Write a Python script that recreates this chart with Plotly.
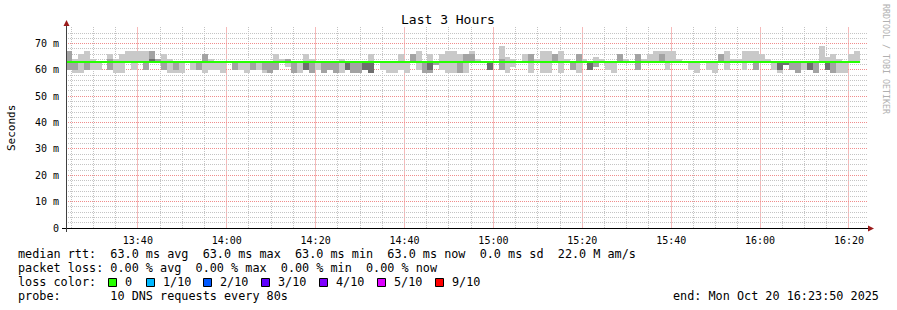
import math
import plotly.graph_objects as go
from datetime import datetime, timedelta

# ---------------- data ----------------
end_time = datetime(2025, 10, 20, 16, 23, 50)
span_hours = 3
step_s = 80                      # 10 DNS requests every 80 s

# smoke: upper / lower edges of the three grey bands per 80 s step (ms)
light_hi = [67,64,66,67,64,63,63,66,64,66, 67,67,67,67,67,64,66,64,63,63,
            63,63,63,66,64,63,63,63,63,63, 63,63,63,63,63,66,64,64,63,63,
            66,64,63,63,63,63,64,63,63,63, 63,66,63,63,63,63,66,63,66,67,
            63,66,63,66,67,67,66,66,67,64, 63,63,63,69,65,64,63,66,66,64,
            67,67,66,67,64,63,66,64,63,65, 64,63,63,66,64,63,66,64,66,67,
            67,67,67,64,63,63,63,63,63,63, 66,67,64,64,67,67,67,66,64,63,
            63,63,63,63,63,63,63,69,65,66, 64,63,66,67]
mid_hi = [67,63,63,63,63,63,63,64,63,63, 63,63,63,63,67,64,63,63,63,63,
          63,63,63,66,63,63,63,63,63,63, 63,63,63,63,63,63,63,64,63,63,
          63,63,63,63,63,63,63,63,63,63, 63,63,63,63,63,63,63,63,66,63,
          63,63,63,63,63,63,63,66,66,63, 63,63,63,64,63,63,63,63,66,63,
          63,63,66,63,63,63,66,63,63,63, 63,63,63,66,63,63,66,63,63,63,
          66,63,63,63,63,63,63,63,63,63, 66,63,63,63,63,63,63,63,63,63,
          63,63,63,63,63,63,63,63,63,63, 63,63,63,63]
dark_hi = [63,63,63,63,63,63,63,63,63,63, 63,63,63,63,64,63,63,63,63,63,
           63,63,63,63,63,63,63,63,63,63, 63,63,63,63,63,63,63,63,63,63,
           63,63,63,63,63,63,63,63,63,63, 63,63,63,63,63,63,63,63,63,63,
           63,63,63,63,63,63,63,63,63,63, 63,63,63,63,63,63,63,63,63,63,
           63,63,63,63,63,63,63,63,63,63, 63,63,63,63,63,63,63,63,63,63,
           63,63,63,63,63,63,63,63,63,63, 63,63,63,63,63,63,63,63,63,63,
           63,63,63,63,63,63,63,63,63,63, 63,63,63,63]
dark_lo = [63,63,63,63,63,63,63,63,63,63, 63,63,63,63,63,63,63,63,63,63,
           63,63,63,63,63,63,63,63,63,63, 63,63,63,63,63,63,63,63,63,63,
           60,63,63,63,63,63,63,60,63,63, 60,59,63,63,63,63,63,63,63,63,
           63,60,63,63,63,63,63,63,63,63, 63,60,63,63,63,63,63,63,63,63,
           63,63,63,63,63,63,63,63,60,63, 63,63,63,63,63,63,63,63,63,63,
           63,63,63,63,63,63,63,63,63,63, 63,63,63,63,63,63,63,63,63,63,
           60,62,63,63,63,60,63,63,60,63, 63,63,63,63]
mid_lo = [60,60,63,60,63,63,63,60,63,63, 63,63,63,60,63,63,60,63,60,63,
          63,63,60,63,63,63,63,63,60,63, 63,60,63,60,59,60,63,63,59,63,
          60,59,63,59,60,59,63,60,59,59, 60,59,63,63,63,63,63,63,63,63,
          59,59,62,63,63,63,59,63,63,63, 63,60,63,60,63,63,63,63,63,63,
          63,63,63,63,63,60,63,63,60,61, 63,63,63,63,63,63,60,63,63,63,
          63,63,63,63,63,63,63,63,63,63, 63,63,63,63,63,63,60,63,63,63,
          60,62,60,59,63,60,59,63,60,59, 63,63,63,63]
light_lo = [60,59,59,60,60,60,63,60,59,59, 63,60,63,60,63,63,60,59,59,59,
            63,60,60,59,60,60,59,63,60,60, 59,60,60,59,59,60,63,61,59,59,
            60,59,60,59,60,59,59,60,59,59, 60,59,63,60,59,59,60,59,63,60,
            59,59,62,60,59,59,59,59,63,63, 63,60,63,60,59,61,63,63,59,63,
            59,59,63,59,63,60,59,63,60,61, 63,60,59,63,63,63,60,63,63,63,
            63,60,63,63,63,60,59,63,60,59, 63,60,63,63,60,63,60,63,63,60,
            59,62,60,59,60,60,59,63,60,59, 59,59,63,63]
median_rtt = [63.0] * len(light_hi)   # constant median, 0 % loss throughout

y_ticks = [0, 10, 20, 30, 40, 50, 60, 70]
y_tick_text = ["0", "10 m", "20 m", "30 m", "40 m", "50 m", "60 m", "70 m"]

loss_labels = ["0", "1/10", "2/10", "3/10", "4/10", "5/10", "9/10"]
loss_colors = ["#26ff00", "#00b8ff", "#0059ff", "#5e00ff", "#7e00ff", "#dd00ff", "#ff0000"]

# ---------------- geometry helpers (page pixel -> paper) ----------------
W, H = 897, 310
L, R, T, B = 66, 866, 28, 228          # plot area in page pixels


def px(x):
    return (x - L) / (R - L)


def py(y):
    return (B - y) / (B - T)


start_time = end_time - timedelta(hours=span_hours)
span_s = span_hours * 3600.0
n = len(light_hi)
starts = [start_time + timedelta(seconds=step_s * k) for k in range(n)]
centers = [s + timedelta(seconds=step_s / 2) for s in starts]
y_top = 200 * 63.0 / 166.0             # 63 ms sits 166 px above the baseline

fig = go.Figure()
for lo, hi, col in [(light_lo, light_hi, "#c9c9c9"),
                    (mid_lo, mid_hi, "#a3a3a3"),
                    (dark_lo, dark_hi, "#6e6e6e")]:
    fig.add_trace(go.Bar(
        x=centers, y=[h - l for h, l in zip(hi, lo)], base=lo,
        width=step_s * 1000, marker=dict(color=col, line=dict(width=0)),
        hoverinfo="skip", showlegend=False))

fig.add_trace(go.Scatter(
    x=starts + [starts[-1] + timedelta(seconds=step_s)],
    y=median_rtt + [median_rtt[-1]],
    mode="lines", line=dict(color=loss_colors[0], width=2, shape="hv"),
    hoverinfo="skip", showlegend=False))

mono = "DejaVu Sans Mono"
major_grid = "#f08c8c"
minor_grid = "#c4c4c4"
dots = "1px,1px"

fig.update_layout(
    width=W, height=H, margin=dict(l=L, r=W - R, t=T, b=H - B),
    paper_bgcolor="white", plot_bgcolor="white",
    barmode="overlay", bargap=0, showlegend=False,
    font=dict(family=mono, size=10, color="black"),
    xaxis=dict(
        type="date", range=[start_time, end_time],
        dtick=20 * 60 * 1000, tick0="2025-10-20 00:00:00", tickformat="%H:%M",
        showgrid=False, ticks="outside", ticklen=3, tickcolor="rgba(0,0,0,0)",
        showline=False, zeroline=False, tickfont=dict(family=mono, size=10),
    ),
    yaxis=dict(
        range=[0, y_top], tickvals=y_ticks, ticktext=y_tick_text,
        showgrid=False, ticks="outside", ticklen=4, tickcolor="rgba(0,0,0,0)",
        showline=False, zeroline=False, tickfont=dict(family=mono, size=10),
    ),
)

shapes = []
# pixel-snapped grid (like rrdtool): minor every 5 min / 2 ms, major every 20 min / 10 ms
t = datetime(2025, 10, 20, 13, 25)
while t < end_time:
    xp = math.floor(L + (t - start_time).total_seconds() / span_s * (R - L)) + 0.5
    if t.minute % 20 == 0:
        ln = dict(color="#f6baba", width=1)            # major: light red
    else:
        ln = dict(color=minor_grid, width=1, dash=dots)
    shapes.append(dict(type="line", xref="paper", yref="paper", x0=px(xp), x1=px(xp),
                       y0=py(T - 1), y1=py(B), line=ln, layer="below"))
    t += timedelta(minutes=5)
for v in range(2, int(y_top) + 1, 2):
    yp = math.floor(B - v / y_top * (B - T)) + 0.5
    is_major = (v % 10 == 0)
    shapes.append(dict(type="line", xref="paper", yref="paper", x0=px(L), x1=px(R + 1),
                       y0=py(yp), y1=py(yp),
                       line=dict(color=major_grid if is_major else minor_grid,
                                 width=1, dash=dots),
                       layer="below"))

# axes with arrows
shapes.append(dict(type="line", xref="paper", yref="paper", x0=px(62), x1=px(870),
                   y0=py(228.5), y1=py(228.5), line=dict(color="black", width=1), layer="above"))
shapes.append(dict(type="line", xref="paper", yref="paper", x0=px(66.5), x1=px(66.5),
                   y0=py(232), y1=py(24), line=dict(color="#404040", width=1), layer="above"))
arrow = "#9b1b1b"
shapes.append(dict(type="path", xref="paper", yref="paper",
                   path=f"M {px(66.5)} {py(20)} L {px(63.5)} {py(26)} L {px(69.5)} {py(26)} Z",
                   fillcolor=arrow, line=dict(width=0), layer="above"))
shapes.append(dict(type="path", xref="paper", yref="paper",
                   path=f"M {px(874)} {py(228.5)} L {px(868)} {py(225.5)} L {px(868)} {py(231.5)} Z",
                   fillcolor=arrow, line=dict(width=0), layer="above"))

annotations = []


def text(x, y, s, size=11.8, anchor="left", color="black", angle=0):
    annotations.append(dict(xref="paper", yref="paper", x=px(x), y=py(y),
                            text=s.replace(" ", "\u00a0"), showarrow=False,
                            xanchor=anchor, yanchor="middle", textangle=angle,
                            font=dict(family=mono, size=size, color=color)))


text(448, 20, "Last 3 Hours", size=13, anchor="center")
text(11, 128, "Seconds", size=11, anchor="center", angle=-90)
text(886, 59, "RRDTOOL / TOBI OETIKER", size=8.3, anchor="center", color="#b0b0b0", angle=90)

avg = sum(median_rtt) / n
mx, mn, now = max(median_rtt), min(median_rtt), median_rtt[-1]
text(16, 254, f"median rtt:  {avg:.1f} ms avg  {mx:.1f} ms max  {mn:.1f} ms min  "
              f"{now:.1f} ms now  0.0 ms sd  22.0 M am/s")
text(16, 268, "packet loss: 0.00 % avg  0.00 % max  0.00 % min  0.00 % now")
text(16, 282, "loss color:")
box_x = [108, 146, 203, 261, 319, 377, 435]
for bx, lab, col in zip(box_x, loss_labels, loss_colors):
    shapes.append(dict(type="rect", xref="paper", yref="paper",
                       x0=px(bx + 0.5), x1=px(bx + 8.5), y0=py(286.5), y1=py(278.5),
                       fillcolor=col, line=dict(color="black", width=1)))
    text(bx + 15, 282, lab)
text(16, 296, "probe:       10 DNS requests every 80s")
text(881, 296, "end: " + end_time.strftime("%a %b %d %H:%M:%S %Y"), anchor="right")

fig.update_layout(shapes=shapes, annotations=annotations)
fig.write_html("out.html")
